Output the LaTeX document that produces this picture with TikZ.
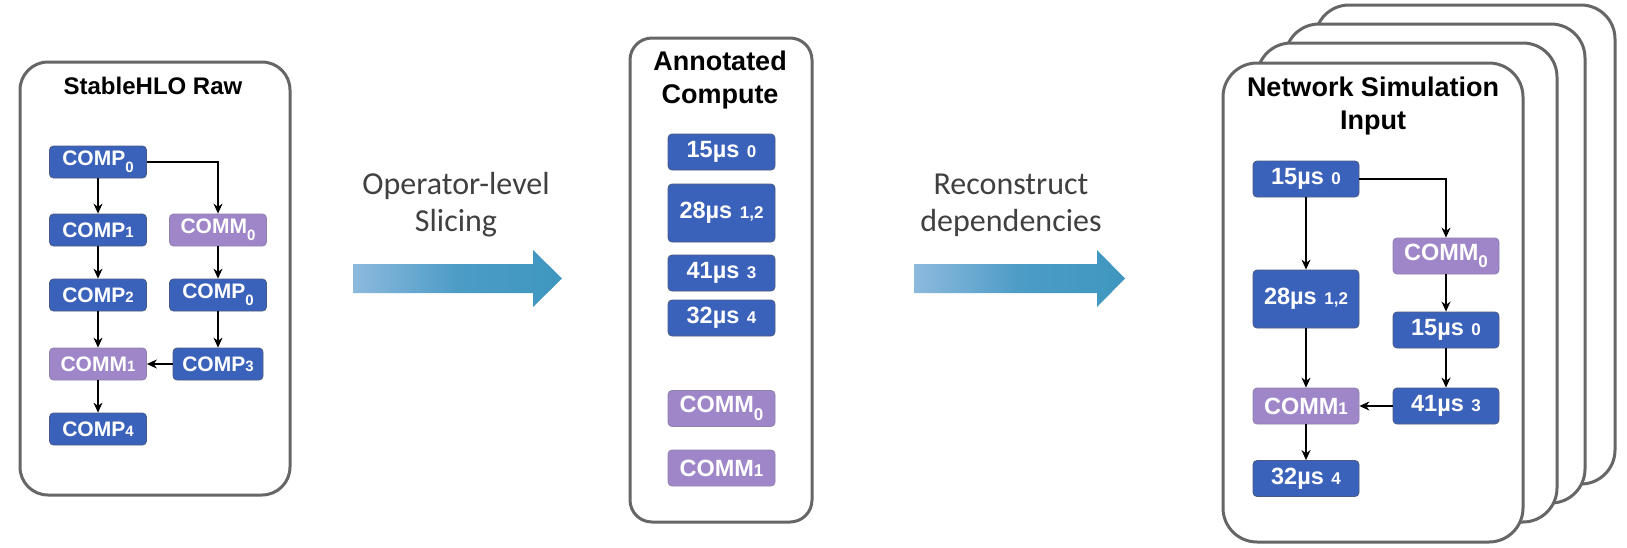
\documentclass[tikz,border=0pt]{standalone}
\usepackage{fontspec}
\setmainfont{Liberation Sans}
\newfontfamily\stepfont{Carlito}
\usetikzlibrary{arrows.meta}

\definecolor{opblue}{HTML}{3B62BA}
\definecolor{opblueline}{HTML}{4A5A86}
\definecolor{commpurple}{HTML}{9E86C8}
\definecolor{commline}{HTML}{8F82AC}
\definecolor{panelgray}{HTML}{666666}
\definecolor{arrowlight}{HTML}{8DB9DE}
\definecolor{arrowmid}{HTML}{4C9CC6}
\definecolor{arrowdark}{HTML}{3E97BF}
\definecolor{stepgray}{HTML}{404040}

% size of the small index digits, set per node style
\def\digsize{15}
% small index digits: on the baseline, or lowered as a subscript
\newcommand\smalldig[1]{{\fontsize{\digsize}{\digsize}\selectfont #1}}
\newcommand\lowdig[1]{\raisebox{-0.32em}{\fontsize{\digsize}{\digsize}\selectfont #1}}
% timed compute label: duration followed by the operator indices
\newcommand\timed[2]{#1µs\hspace{0.32em}\smalldig{#2}}

\begin{document}
\begin{tikzpicture}[x=1pt,y=-1pt,
  panel/.style={draw=panelgray, line width=3pt, fill=white, rounded corners=28pt},
  op/.style={draw=opblueline, line width=0.8pt, fill=opblue, rounded corners=4pt,
    text=white, font=\bfseries\fontsize{21}{21}\selectfont\def\digsize{15},
    minimum width=97pt, minimum height=32pt, inner sep=0pt},
  comm/.style={op, fill=commpurple, draw=commline},
  large/.style={font=\bfseries\fontsize{23.5}{23.5}\selectfont\def\digsize{17}},
  flow/.style={-{Stealth[length=10pt,width=9pt]}, line width=1.2pt},
  heavyflow/.style={flow, line width=1.8pt},
  title/.style={font=\bfseries\fontsize{24}{33}\selectfont, align=center},
  bigtitle/.style={title, font=\bfseries\fontsize{27}{33.5}\selectfont},
  steplabel/.style={font=\stepfont\fontsize{32}{37}\selectfont, text=stepgray, align=center},
  stepshade/.style={left color=arrowlight, right color=arrowdark, middle color=arrowmid}]

\useasboundingbox (0,0) rectangle (1627,547);

% ---------- StableHLO panel ----------
\draw[panel] (20,62) rectangle (290,495);
\node[title] (t1) at (153,86) {StableHLO Raw};

\node[op]   (c0)  at (98,162) {COMP\lowdig{0}};
\node[op]   (c1)  at (98,230) {COMP\smalldig{1}};
\node[comm] (m0)  at (218,230) {COMM\lowdig{0}};
\node[op]   (c2)  at (98,295) {COMP\smalldig{2}};
\node[op]   (c0b) at (218,295) {COMP\lowdig{0}};
\node[comm] (m1)  at (98,364) {COMM\smalldig{1}};
\node[op, minimum width=90pt] (c3) at (218,364) {COMP\smalldig{3}};
\node[op]   (c4)  at (98,429) {COMP\smalldig{4}};

\draw[flow] (c0) -- (c1);
\draw[flow] (c0.east) -| (m0.north);
\draw[flow] (c1) -- (c2);
\draw[flow] (m0) -- (c0b);
\draw[flow] (c2) -- (m1);
\draw[flow] (c0b) -- (c3);
\draw[flow] (c3) -- (m1);
\draw[flow] (m1) -- (c4);

% ---------- slicing step ----------
\shade[stepshade]
  (353,264) -- (533,264) -- (533,250) -- (562,278.5) -- (533,307) -- (533,293) -- (353,293) -- cycle;
\node[steplabel] (s1) at (456,205) {Operator-level\\Slicing};

% ---------- annotated compute panel ----------
\draw[panel, rounded corners=22pt] (630,38) rectangle (812,522);
\node[bigtitle] (t2) at (720,80) {Annotated\\Compute};

\tikzset{mnode/.style={large, minimum width=107pt, minimum height=36pt}}
\node[op, mnode] (a0)  at (721.5,152) {\timed{15}{0}};
\node[op, mnode, minimum height=58pt] (a12) at (721.5,213) {\timed{28}{1,2}};
\node[op, mnode] (a3)  at (721.5,273) {\timed{41}{3}};
\node[op, mnode] (a4)  at (721.5,318) {\timed{32}{4}};
\node[comm, mnode] (am0) at (721.5,408.5) {COMM\lowdig{0}};
\node[comm, mnode] (am1) at (721.5,468) {COMM\smalldig{1}};

% ---------- reconstruction step ----------
\shade[stepshade]
  (914,264) -- (1097,264) -- (1097,250) -- (1125,278.5) -- (1097,307) -- (1097,293) -- (914,293) -- cycle;
\node[steplabel] (s2) at (1011,205) {Reconstruct\\dependencies};

% ---------- network simulation input: stacked panels ----------
\draw[panel, rounded corners=34pt] (1315,5) rectangle (1615,484);
\draw[panel, rounded corners=34pt] (1285,24) rectangle (1585,503);
\draw[panel, rounded corners=34pt] (1257,43) rectangle (1557,522);
\draw[panel, rounded corners=34pt] (1223,63) rectangle (1523,542);
\node[bigtitle] (t3) at (1373,106) {Network Simulation\\Input};

\tikzset{rnode/.style={large, minimum width=106pt, minimum height=36pt}}
\node[op, rnode]   (r0)  at (1306,179) {\timed{15}{0}};
\node[comm, rnode] (rm0) at (1446,256) {COMM\lowdig{0}};
\node[op, rnode, minimum height=58pt] (r12) at (1306,299) {\timed{28}{1,2}};
\node[op, rnode]   (r0b) at (1446,330) {\timed{15}{0}};
\node[comm, rnode] (rm1) at (1306,406) {COMM\smalldig{1}};
\node[op, rnode]   (r3)  at (1446,406) {\timed{41}{3}};
\node[op, rnode]   (r4)  at (1306,478.5) {\timed{32}{4}};

\draw[flow] (r0) -- (r12);
\draw[flow] (r0.east) -| (rm0.north);
\draw[heavyflow] (rm0) -- (r0b);
\draw[heavyflow] (r0b) -- (r3);
\draw[flow] (r12) -- (rm1);
\draw[flow] (r3) -- (rm1);
\draw[heavyflow] (rm1) -- (r4);
\end{tikzpicture}
\end{document}
